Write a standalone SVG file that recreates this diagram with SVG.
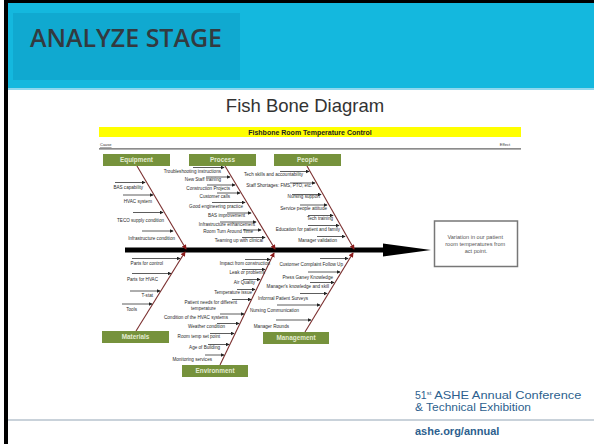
<svg xmlns="http://www.w3.org/2000/svg" width="594" height="444" viewBox="0 0 594 444">
<defs>
<style>
.lbl{font-family:"Liberation Sans",Arial,sans-serif;font-size:4.6px;fill:#2a2a2a;text-anchor:end}
.sub{stroke:#333;stroke-width:0.8;fill:none;marker-end:url(#ah)}
.bone{stroke:#7b2f2f;stroke-width:1.1;fill:none;marker-end:url(#bh)}
.box{fill:#76923c}
.btxt{font-family:"Liberation Sans",Arial,sans-serif;font-size:6.4px;font-weight:bold;fill:#e4ecd2;text-anchor:middle}
.foot{font-family:"Liberation Sans",Arial,sans-serif;fill:#2d5f8e}
</style>
<marker id="ah" viewBox="0 0 6 6" refX="5" refY="3" markerWidth="4" markerHeight="4" orient="auto" markerUnits="userSpaceOnUse">
<path d="M0,0 L6,3 L0,6 z" fill="#222"/>
</marker>
<marker id="bh" viewBox="0 0 6 6" refX="5" refY="3" markerWidth="5" markerHeight="5" orient="auto" markerUnits="userSpaceOnUse">
<path d="M0,0 L6,3 L0,6 z" fill="#8b1a1a"/>
</marker>
</defs>
<rect x="0" y="0" width="594" height="444" fill="#ffffff"/>
<!-- header -->
<g id="header">
<rect x="4" y="0" width="590" height="3" fill="#000"/>
<rect x="8" y="3" width="586" height="85" fill="#14b8de"/>
<rect x="8" y="88" width="586" height="2" fill="#8fd8ee"/>
<rect x="13" y="13" width="227" height="67" fill="#10a9d0"/>
<text x="30" y="47" font-family="'Open Sans',Lato,sans-serif" font-weight="600" font-size="25" fill="#333a40" textLength="192" lengthAdjust="spacingAndGlyphs">ANALYZE STAGE</text>
</g>
<rect x="4" y="0" width="4" height="444" fill="#000"/>
<text x="305" y="112" font-family="'Liberation Sans',Arial,sans-serif" font-size="18.5" fill="#333" text-anchor="middle">Fish Bone Diagram</text>
<!-- fishbone frame -->
<g id="title">
<rect x="99" y="127" width="422" height="10" fill="#ffff00"/>
<text x="310" y="134.5" font-family="'Liberation Sans',Arial,sans-serif" font-size="7" font-weight="bold" fill="#222" text-anchor="middle">Fishbone Room Temperature Control</text>
<text x="100" y="146" font-family="'Liberation Sans',Arial,sans-serif" font-size="4" fill="#333" text-decoration="underline">Cause</text>
<text x="510" y="146" font-family="'Liberation Sans',Arial,sans-serif" font-size="4" fill="#333" text-anchor="end">Effect</text>
<line x1="99" y1="148.8" x2="521" y2="148.8" stroke="#666" stroke-width="1.3"/>
</g>
<!-- connectors -->
<g id="connectors">
<rect x="125" y="247.5" width="260" height="5" fill="#000"/>
<polygon points="383,243.5 431,250 383,256.5" fill="#000"/>
<path class="bone" d="M137,166 L186,249"/>
<path class="bone" d="M225,166 L275,249"/>
<path class="bone" d="M307,166 L354,249"/>
<path class="bone" d="M136,331 L185,252"/>
<path class="bone" d="M220,365 L274,253"/>
<path class="bone" d="M305,332 L353,253"/>
<!-- equipment subs -->
<path class="sub" d="M115,182.5 H145"/>
<path class="sub" d="M123,195 H153"/>
<path class="sub" d="M133,212.5 H163"/>
<path class="sub" d="M142,231 H173"/>
<!-- process subs -->
<path class="sub" d="M193,167.5 H224"/>
<path class="sub" d="M206,177 H230"/>
<path class="sub" d="M207,185 H235"/>
<path class="sub" d="M217,193 H240"/>
<path class="sub" d="M212,202.5 H245"/>
<path class="sub" d="M227,213 H251"/>
<path class="sub" d="M220,222 H256"/>
<path class="sub" d="M243,230 H261"/>
<path class="sub" d="M242,237.5 H265"/>
<!-- people subs -->
<path class="sub" d="M280,171.5 H309"/>
<path class="sub" d="M290,183 H315"/>
<path class="sub" d="M292,194.5 H321"/>
<path class="sub" d="M300,205 H327"/>
<path class="sub" d="M308,215.5 H333"/>
<path class="sub" d="M308,225.5 H339"/>
<path class="sub" d="M317,236.5 H345"/>
<!-- materials subs -->
<path class="sub" d="M132,258.5 H180"/>
<path class="sub" d="M132,273.5 H171"/>
<path class="sub" d="M130,291 H160"/>
<path class="sub" d="M122,304 H152"/>
<!-- environment subs -->
<path class="sub" d="M245,259.5 H270"/>
<path class="sub" d="M242,269.5 H265"/>
<path class="sub" d="M243,279.5 H260"/>
<path class="sub" d="M237,289.5 H255"/>
<path class="sub" d="M232,299.5 H251"/>
<path class="sub" d="M220,314 H244"/>
<path class="sub" d="M217,323.5 H239"/>
<path class="sub" d="M210,333.5 H234"/>
<path class="sub" d="M208,344.5 H229"/>
<path class="sub" d="M205,355 H224"/>
<!-- management subs -->
<path class="sub" d="M320,258.5 H348"/>
<path class="sub" d="M308,272 H340"/>
<path class="sub" d="M310,282.5 H334"/>
<path class="sub" d="M300,293.5 H327"/>
<path class="sub" d="M277,305 H320"/>
<path class="sub" d="M276,320 H311"/>
</g>
<!-- nodes -->
<g id="equipment">
<rect class="box" x="103" y="154" width="67" height="12"/>
<text class="btxt" x="136.5" y="162.3">Equipment</text>
<text class="lbl" x="143" y="188.5">BAS  capability</text>
<text class="lbl" x="152" y="203">HVAC system</text>
<text class="lbl" x="164" y="221.5">TECO supply condition</text>
<text class="lbl" x="175" y="239.5">Infrastructure condition</text>
</g>
<g id="process">
<rect class="box" x="189" y="154" width="67" height="12"/>
<text class="btxt" x="222.5" y="162.3">Process</text>
<text class="lbl" x="221" y="172.5">Troubleshooting instructions</text>
<text class="lbl" x="221" y="181">New Staff training</text>
<text class="lbl" x="230" y="189.5">Construction Projects</text>
<text class="lbl" x="230" y="197.5">Customer calls</text>
<text class="lbl" x="243" y="207.5">Good engineering practice</text>
<text class="lbl" x="245" y="217">BAS improvement</text>
<text class="lbl" x="255" y="226">Infrastructure enhancement</text>
<text class="lbl" x="253" y="233">Room Turn Around Time</text>
<text class="lbl" x="263" y="242">Teaming up with clinical</text>
</g>
<g id="people">
<rect class="box" x="274" y="154" width="67" height="12"/>
<text class="btxt" x="307.5" y="162.3">People</text>
<text class="lbl" x="303" y="176">Tech skills and accountability</text>
<text class="lbl" x="312" y="187">Staff Shortages: FMS, PTO, etc.</text>
<text class="lbl" x="320" y="198">Nursing support</text>
<text class="lbl" x="327" y="210">Service people attitude</text>
<text class="lbl" x="333" y="220">Tech training</text>
<text class="lbl" x="340" y="231">Education for patient and family</text>
<text class="lbl" x="337" y="242">Manager validation</text>
</g>
<g id="materials">
<rect class="box" x="102" y="331" width="67" height="12"/>
<text class="btxt" x="135.5" y="339.3">Materials</text>
<text class="lbl" x="163" y="265">Parts for control</text>
<text class="lbl" x="158" y="281">Parts for HVAC</text>
<text class="lbl" x="153" y="297">T-stat</text>
<text class="lbl" x="137" y="311">Tools</text>
</g>
<g id="environment">
<rect class="box" x="182" y="365" width="66" height="12"/>
<text class="btxt" x="215" y="373.3">Environment</text>
<text class="lbl" x="270" y="264.5">Impact from construction</text>
<text class="lbl" x="265" y="274">Leak or problems</text>
<text class="lbl" x="255" y="283.5">Air Quality</text>
<text class="lbl" x="252" y="293.5">Temperature issue</text>
<text class="lbl" x="237" y="303.5">Patient needs for different</text>
<text class="lbl" x="191" y="310" style="text-anchor:start">temperature</text>
<text class="lbl" x="228" y="319">Condition of the HVAC systems</text>
<text class="lbl" x="225" y="328">Weather condition</text>
<text class="lbl" x="220" y="338">Room temp set point</text>
<text class="lbl" x="220" y="349">Age of Building</text>
<text class="lbl" x="212" y="361">Monitoring services</text>
</g>
<g id="management">
<rect class="box" x="263" y="332" width="66" height="12"/>
<text class="btxt" x="296" y="340.3">Management</text>
<text class="lbl" x="343" y="266">Customer Complaint Follow Up</text>
<text class="lbl" x="333" y="279">Press Ganey Knowledge</text>
<text class="lbl" x="329" y="288">Manager's knowledge and skill</text>
<text class="lbl" x="308" y="300">Informal Patient Surveys</text>
<text class="lbl" x="299" y="312">Nursing Communication</text>
<text class="lbl" x="289" y="327.5">Manager Rounds</text>
</g>
<g id="effect">
<rect x="434.5" y="221" width="83" height="45.5" fill="#fff" stroke="#777" stroke-width="1.5"/>
<text font-family="'Liberation Sans',Arial,sans-serif" font-size="5.6" fill="#555" text-anchor="middle">
<tspan x="476" y="239">Variation in our patient</tspan>
<tspan x="476" y="246">room temperatures from</tspan>
<tspan x="476" y="253">act point.</tspan>
</text>
</g>
<!-- footer -->
<g id="footer">
<text class="foot" x="415" y="398.5" font-size="10.5"><tspan>51</tspan><tspan font-size="6" dy="-4">st</tspan><tspan dy="4" textLength="150" lengthAdjust="spacingAndGlyphs"> ASHE Annual Conference</tspan></text>
<text class="foot" x="415" y="410.5" font-size="10.5" textLength="116" lengthAdjust="spacingAndGlyphs">&amp; Technical Exhibition</text>
<rect x="8" y="419" width="586" height="2" fill="#c9d2da"/>
<text class="foot" x="415" y="435" font-size="11" font-weight="bold" fill="#34597f">ashe.org/annual</text>
</g>
</svg>
